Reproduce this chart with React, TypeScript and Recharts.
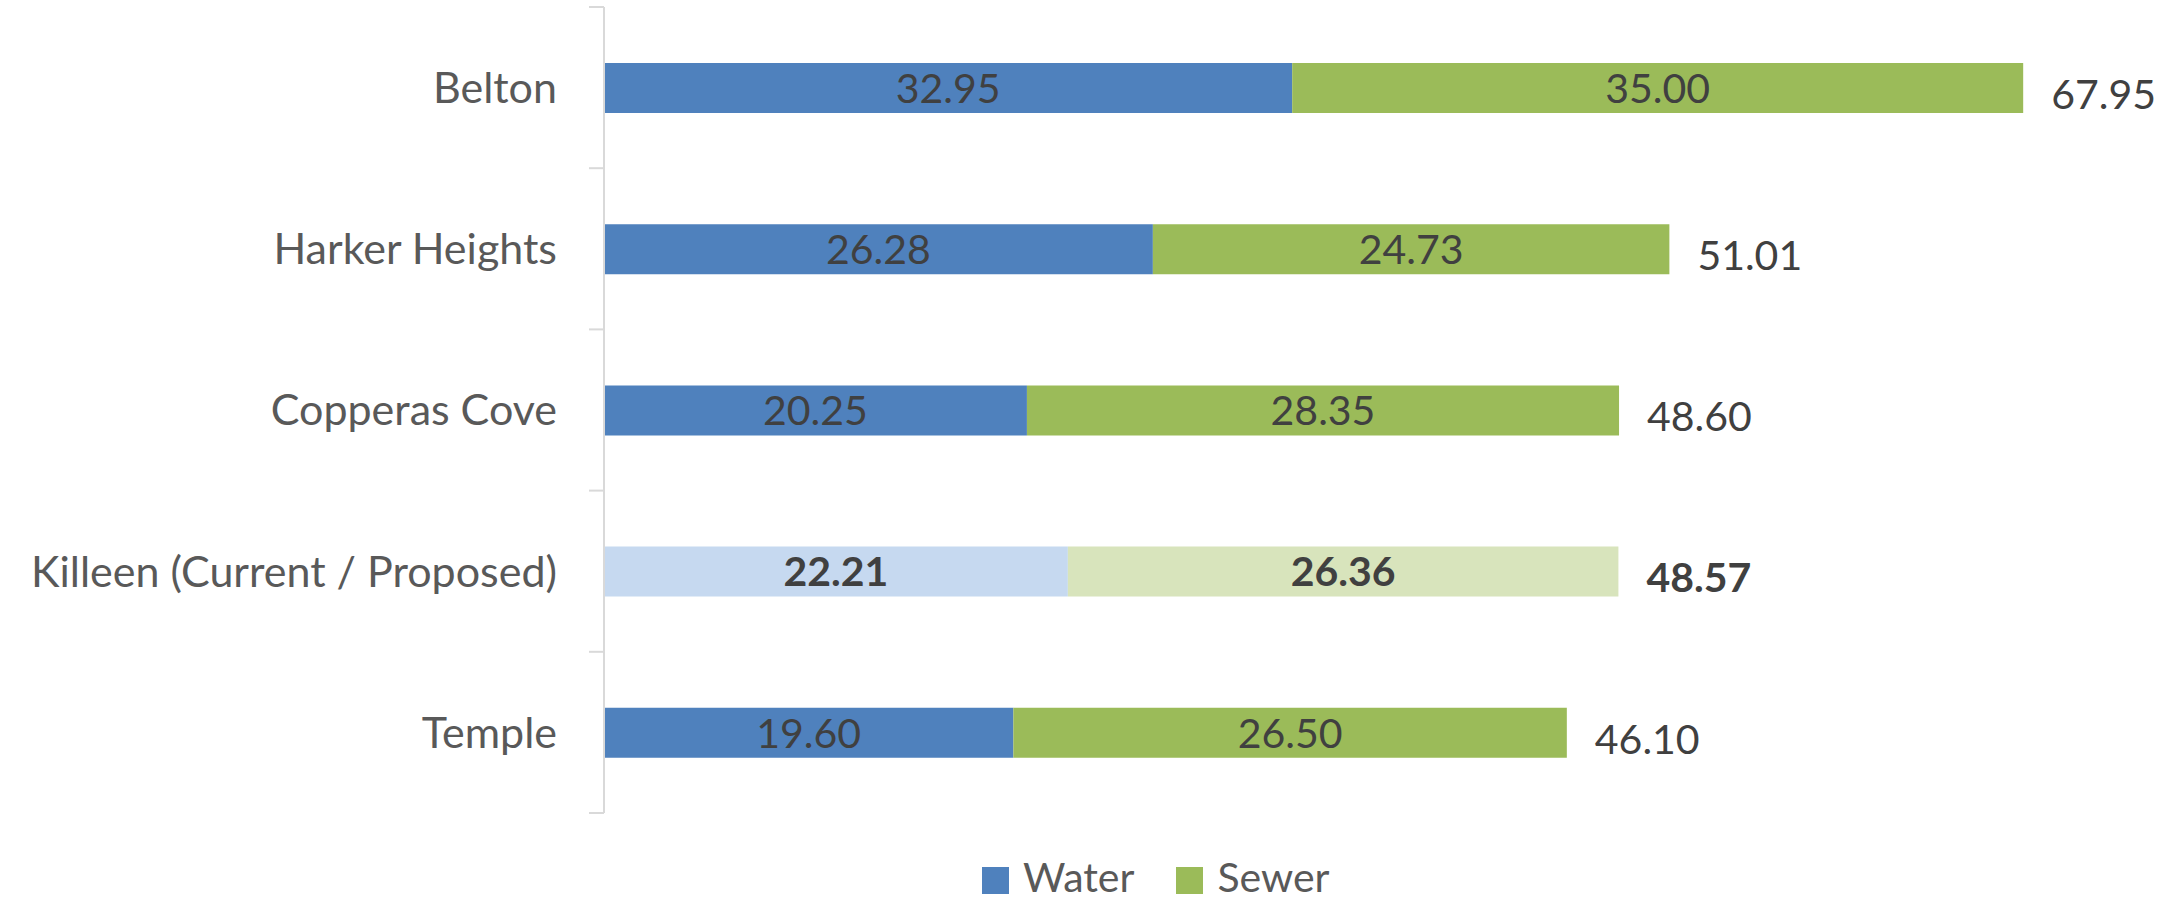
import React from "react";
import { BarChart, Bar, XAxis, YAxis, Cell, LabelList } from "recharts";

// ---------------------------------------------------------------------------
// Data: monthly water + sewer bill by city
// ---------------------------------------------------------------------------

const cities = [
  "Belton",
  "Harker Heights",
  "Copperas Cove",
  "Killeen (Current / Proposed)",
  "Temple",
];
const waterCharges = [32.95, 26.28, 20.25, 22.21, 19.6];
const sewerCharges = [35.0, 24.73, 28.35, 26.36, 26.5];
const highlightCity = "Killeen (Current / Proposed)";
const valueMax = 70;

const rows = cities.map((city, i) => ({
  city,
  water: waterCharges[i],
  sewer: sewerCharges[i],
  total: waterCharges[i] + sewerCharges[i],
}));

// ---------------------------------------------------------------------------
// Layout / style
// ---------------------------------------------------------------------------

const WIDTH = 2182;
const HEIGHT = 901;
const MARGIN = { top: 7, right: 116, bottom: 88, left: 0 };
const AXIS_WIDTH = 604;
const LABEL_GAP = 47;
const PLOT_H = HEIGHT - MARGIN.top - MARGIN.bottom;
const BAND = PLOT_H / cities.length;

const FONT = "Lato, 'Open Sans', sans-serif";
const CATEGORY_SIZE = 43;
const VALUE_SIZE = 41;
const AXIS_COLOR = "#d9d9d9";
const CATEGORY_TEXT = "#595959";
const VALUE_TEXT = "#404040";

const WATER = "#4f81bd";
const SEWER = "#9bbb59";
const WATER_LIGHT = "#c6d9f0";
const SEWER_LIGHT = "#d8e4bc";

const isHighlight = (i: number) => cities[i] === highlightCity;

// ---------------------------------------------------------------------------
// Category tick: label plus Excel-style tick marks between categories
// ---------------------------------------------------------------------------

function CityTick(props: any) {
  const { x, y, payload, index } = props;
  const axisX = x + LABEL_GAP;
  const last = index === cities.length - 1;
  return (
    <g>
      <line
        x1={axisX - 15}
        x2={axisX}
        y1={y - BAND / 2}
        y2={y - BAND / 2}
        stroke={AXIS_COLOR}
        strokeWidth={2}
      />
      {last && (
        <line
          x1={axisX - 15}
          x2={axisX}
          y1={y + BAND / 2}
          y2={y + BAND / 2}
          stroke={AXIS_COLOR}
          strokeWidth={2}
        />
      )}
      <text
        x={x}
        y={y}
        dy="0.36em"
        textAnchor="end"
        fill={CATEGORY_TEXT}
        fontSize={CATEGORY_SIZE}
        fontFamily={FONT}
      >
        {payload.value}
      </text>
    </g>
  );
}

// value printed in the middle of each segment
function SegmentLabel(props: any) {
  const { x, y, width, height, value, index } = props;
  return (
    <text
      x={x + width / 2}
      y={y + height / 2}
      dy="0.36em"
      textAnchor="middle"
      fill={VALUE_TEXT}
      fontSize={VALUE_SIZE}
      fontFamily={FONT}
      fontWeight={isHighlight(index) ? 700 : 400}
    >
      {Number(value).toFixed(2)}
    </text>
  );
}

// total printed past the end of the stacked bar
function TotalLabel(props: any) {
  const { x, y, width, height, value, index } = props;
  return (
    <text
      x={x + width + 28}
      y={y + height / 2 + 6}
      dy="0.36em"
      textAnchor="start"
      fill={VALUE_TEXT}
      fontSize={VALUE_SIZE}
      fontFamily={FONT}
      fontWeight={isHighlight(index) ? 700 : 400}
    >
      {Number(value).toFixed(2)}
    </text>
  );
}

function LegendItem({ color, label }: { color: string; label: string }) {
  return (
    <div style={{ display: "flex", alignItems: "center", marginRight: 42, height: 36 }}>
      <div
        style={{ width: 27, height: 27, background: color, marginRight: 14, marginTop: 6 }}
      />
      <span
        style={{ fontSize: VALUE_SIZE, color: CATEGORY_TEXT, lineHeight: "36px", height: 36 }}
      >
        {label}
      </span>
    </div>
  );
}

export default function App() {
  return (
    <div
      style={{
        position: "absolute",
        left: 0,
        top: 0,
        width: WIDTH,
        height: HEIGHT,
        background: "#fff",
        fontFamily: FONT,
      }}
    >
      <BarChart
        width={WIDTH}
        height={HEIGHT}
        data={rows}
        layout="vertical"
        margin={MARGIN}
        barSize={50}
      >
        <XAxis type="number" domain={[0, valueMax]} hide />
        <YAxis
          type="category"
          dataKey="city"
          width={AXIS_WIDTH}
          axisLine={{ stroke: AXIS_COLOR, strokeWidth: 2 }}
          tickLine={false}
          tickSize={0}
          tickMargin={LABEL_GAP}
          tick={<CityTick />}
          interval={0}
        />
        <Bar dataKey="water" stackId="bill" isAnimationActive={false}>
          {rows.map((r, i) => (
            <Cell key={r.city} fill={isHighlight(i) ? WATER_LIGHT : WATER} />
          ))}
          <LabelList dataKey="water" content={<SegmentLabel />} />
        </Bar>
        <Bar dataKey="sewer" stackId="bill" isAnimationActive={false}>
          {rows.map((r, i) => (
            <Cell key={r.city} fill={isHighlight(i) ? SEWER_LIGHT : SEWER} />
          ))}
          <LabelList dataKey="sewer" content={<SegmentLabel />} />
          <LabelList dataKey="total" content={<TotalLabel />} />
        </Bar>
      </BarChart>
      <div
        style={{
          position: "absolute",
          left: 982,
          top: 859,
          display: "flex",
          alignItems: "center",
        }}
      >
        <LegendItem color={WATER} label="Water" />
        <LegendItem color={SEWER} label="Sewer" />
      </div>
    </div>
  );
}
